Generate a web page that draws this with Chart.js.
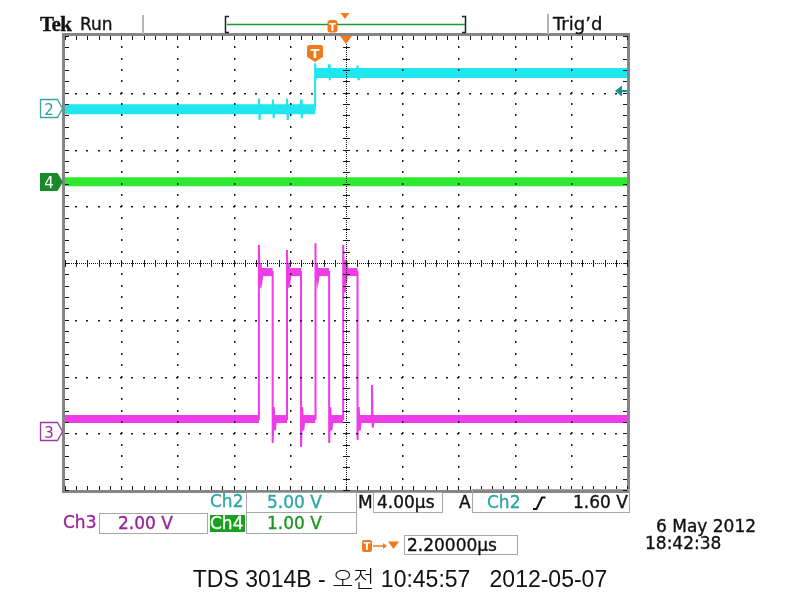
<!DOCTYPE html>
<html><head><meta charset="utf-8">
<script src="https://cdn.jsdelivr.net/npm/chart.js@4.4.0/dist/chart.umd.min.js"></script>
<style>
html,body{margin:0;padding:0;background:#fff;}
#wrap{position:relative;width:800px;height:600px;overflow:hidden;background:#fff;}
#c{position:absolute;left:0;top:0;}
#ov{position:absolute;left:0;top:0;pointer-events:none;}
.t{position:absolute;white-space:pre;font-family:"DejaVu Sans";font-size:17px;line-height:1;color:#111;-webkit-text-stroke:0.35px currentColor;}
.box{position:absolute;border:1px solid #a8a8a8;box-sizing:border-box;}
.cap{position:absolute;left:0;width:800px;text-align:center;white-space:pre;font-family:"Liberation Sans","Noto Sans CJK KR";font-size:23px;line-height:1;color:#111;}
.kr{font-family:"Noto Sans CJK KR";font-weight:300;}
</style></head>
<body>
<div id="wrap">
<canvas id="c" width="800" height="600"></canvas>
<svg id="ov" width="800" height="600" xmlns="http://www.w3.org/2000/svg">
  <line x1="143" y1="15" x2="143" y2="34" stroke="#b4b4b4" stroke-width="2"/>
  <line x1="548" y1="14" x2="548" y2="34" stroke="#b4b4b4" stroke-width="2"/>
  <path d="M229,16.5 L225.5,16.5 L225.5,32.5 L229,32.5" fill="none" stroke="#222" stroke-width="1.5"/>
  <path d="M462,16.5 L465.5,16.5 L465.5,32.5 L462,32.5" fill="none" stroke="#222" stroke-width="1.5"/>
  <line x1="227" y1="24.5" x2="465" y2="24.5" stroke="#1c9a2c" stroke-width="1.5"/>
  <rect x="327.5" y="20" width="10" height="12.5" rx="3" fill="#f07a1e"/>
  <text x="332.5" y="30.5" font-family="DejaVu Sans" font-weight="bold" font-size="10" fill="#fff" text-anchor="middle">T</text>
  <polygon points="340.5,13 349.5,13 345,19" fill="#f07a1e"/>
  <polygon points="340,36 352,36 346,44" fill="#f07a1e"/>
  <path d="M309.5,45 h11 a2.5,2.5 0 0 1 2.5,2.5 v9.5 l-8,5 l-8,-5 v-9.5 a2.5,2.5 0 0 1 2.5,-2.5 z" fill="#f07a1e"/>
  <text x="315" y="57.5" font-family="DejaVu Sans" font-weight="bold" font-size="13" fill="#fff" text-anchor="middle">T</text>
  <polygon points="40.5,99.5 57.5,99.5 62.5,108.5 57.5,117.5 40.5,117.5" fill="#fff" stroke="#3aa5a5" stroke-width="1.3"/>
  <text x="49" y="114.5" font-family="DejaVu Sans" font-size="15" fill="#2a9c9c" text-anchor="middle">2</text>
  <polygon points="40,173 57.5,173 63,182 57.5,191 40,191" fill="#178a2a"/>
  <text x="49" y="188" font-family="DejaVu Sans" font-size="15" fill="#fff" text-anchor="middle">4</text>
  <polygon points="40.5,422.5 57.5,422.5 62.5,431.5 57.5,440.5 40.5,440.5" fill="#fff" stroke="#a03aa0" stroke-width="1.3"/>
  <text x="49" y="437.5" font-family="DejaVu Sans" font-size="15" fill="#9a2a9a" text-anchor="middle">3</text>
  <polygon points="615,91 622,85.5 622,96.5" fill="#1a9090"/>
  <rect x="621" y="90" width="6" height="2" fill="#1a9090"/>
  <path d="M533,509 L536.5,509 L542,497.5 L545.5,497.5" fill="none" stroke="#111" stroke-width="2"/>
  <rect x="362" y="540" width="10" height="12" rx="2" fill="#f07a1e"/>
  <text x="367" y="550" font-family="DejaVu Sans" font-weight="bold" font-size="10" fill="#fff" text-anchor="middle">T</text>
  <line x1="373" y1="546" x2="383" y2="546" stroke="#f07a1e" stroke-width="1.5"/>
  <polygon points="383,543 387,546 383,549" fill="#f07a1e"/>
  <polygon points="388,541.5 399,541.5 393.5,549" fill="#f07a1e"/>
</svg>
<div class="t" style="left:40px;top:13.5px;font-family:'Liberation Serif';font-weight:bold;font-size:21px;letter-spacing:-0.6px;">Tek</div>
<div class="t" style="left:80px;top:15.5px;">Run</div>
<div class="t" style="left:553px;top:14.5px;font-size:18px;">Trig’d</div>

<div class="t" style="left:210px;top:493px;color:#2aa6a8;">Ch2</div>
<div class="box" style="left:246px;top:492px;width:111px;height:21px;"></div>
<div class="t" style="left:267px;top:494px;color:#2aa6a8;">5.00 V</div>
<div class="t" style="left:358px;top:494px;">M</div>
<div class="box" style="left:373px;top:492px;width:70px;height:21px;"></div>
<div class="t" style="left:377px;top:494px;">4.00µs</div>
<div class="t" style="left:459px;top:494px;">A</div>
<div class="box" style="left:472px;top:489px;width:158px;height:24px;"></div>
<div class="t" style="left:487px;top:494px;color:#2aa6a8;">Ch2</div>
<div class="t" style="left:573px;top:494px;">1.60 V</div>

<div class="t" style="left:63px;top:514px;color:#9a239a;">Ch3</div>
<div class="box" style="left:99px;top:513px;width:109px;height:21px;"></div>
<div class="t" style="left:118px;top:515px;color:#9a239a;">2.00 V</div>
<div class="t" style="left:210px;top:515px;width:35px;height:17px;background:#18a01e;color:#fff;">Ch4</div>
<div class="box" style="left:246px;top:512px;width:111px;height:22px;"></div>
<div class="t" style="left:267px;top:515px;color:#1e961e;">1.00 V</div>

<div class="box" style="left:404px;top:535px;width:114px;height:20px;"></div>
<div class="t" style="left:407px;top:537px;">2.20000µs</div>

<div class="t" style="left:656px;top:518px;">6 May 2012</div>
<div class="t" style="left:645px;top:535px;">18:42:38</div>

<div class="cap" style="top:566px;">TDS 3014B - <span class="kr">오전</span> 10:45:57   2012-05-07</div>
</div>
<script>
// Time axis in microseconds (4 µs/div, 10 div), vertical axis in divisions (8 div)
const X_MIN = -20, X_MAX = 20, X_DIV = 4, Y_MIN = -4, Y_MAX = 4;

// Channel 2 (cyan): level band and edge/noise trace
const ch2Level = [[-20, 2.71], [-2.2, 2.71], [-2.2, 3.35], [20, 3.35]];
const ch2Trace = [
  [-20, 2.71], [-6.25, 2.71], [-6.2, 2.9], [-6.15, 2.52], [-6.1, 2.71],
  [-5.25, 2.71], [-5.2, 2.88], [-5.15, 2.55], [-5.1, 2.71],
  [-4.25, 2.71], [-4.2, 2.9], [-4.15, 2.52], [-4.1, 2.71],
  [-3.25, 2.71], [-3.2, 2.88], [-3.15, 2.55], [-3.1, 2.71],
  [-2.2, 2.71], [-2.2, 3.52], [-2.12, 3.28], [-2.05, 3.35],
  [-1.25, 3.35], [-1.2, 3.5], [-1.15, 3.22], [-1.1, 3.35],
  [0.77, 3.35], [0.82, 3.48], [0.87, 3.24], [0.92, 3.35],
  [20, 3.35]
];

// Channel 4 (green): flat
const ch4Level = [[-20, 1.43], [20, 1.43]];

// Channel 3 (magenta): pulse levels and edge ringing
const ch3Level = [
  [-20, -2.75], [-6.2, -2.75], [-6.2, -0.16], [-5.22, -0.16], [-5.22, -2.75],
  [-4.2, -2.75], [-4.2, -0.16], [-3.2, -0.16], [-3.2, -2.75],
  [-2.2, -2.75], [-2.2, -0.16], [-1.2, -0.16], [-1.2, -2.75],
  [-0.2, -2.75], [-0.2, -0.16], [0.82, -0.16], [0.82, -2.75], [20, -2.75]
];
const ch3Trace = [
  [-20, -2.75],
  [-6.2, -2.75], [-6.2, 0.32], [-6.14, -0.44], [-6.08, 0.0], [-6.0, -0.3], [-5.92, -0.16],
  [-5.22, -0.16], [-5.22, -3.17], [-5.14, -2.54], [-5.06, -2.95], [-4.98, -2.75],
  [-4.2, -2.75], [-4.2, 0.23], [-4.14, -0.44], [-4.08, 0.0], [-4.0, -0.3], [-3.92, -0.16],
  [-3.2, -0.16], [-3.2, -3.24], [-3.12, -2.54], [-3.04, -2.95], [-2.96, -2.75],
  [-2.2, -2.75], [-2.2, 0.35], [-2.14, -0.44], [-2.08, 0.0], [-2.0, -0.3], [-1.92, -0.16],
  [-1.2, -0.16], [-1.2, -3.17], [-1.12, -2.54], [-1.04, -2.95], [-0.96, -2.75],
  [-0.2, -2.75], [-0.2, 0.32], [-0.14, -0.5], [-0.08, 0.05], [0.0, -0.35], [0.08, -0.05], [0.16, -0.16],
  [0.82, -0.16], [0.82, -3.12], [0.9, -2.54], [0.98, -2.95], [1.06, -2.75],
  [1.85, -2.75], [1.85, -2.15], [1.9, -2.9], [1.98, -2.75],
  [20, -2.75]
];

const C2 = '#1fe6ef', C4 = '#2fe82f', C3 = '#ee3ce6';

const pts = a => a.map(p => ({x: p[0], y: p[1]}));
const band = (arr, color, w) => ({
  data: pts(arr), borderColor: color, borderWidth: w, borderCapStyle: 'butt', borderJoinStyle: 'miter',
  segment: { borderColor: c => Math.abs(c.p1.parsed.x - c.p0.parsed.x) < 0.01 ? 'rgba(0,0,0,0)' : color }
});
const trace = (arr, color) => ({ data: pts(arr), borderColor: color, borderWidth: 2 });

const graticule = {
  id: 'graticule',
  afterDatasetsDraw(chart) {
    const {ctx, chartArea: a, scales: {x, y}} = chart;
    ctx.save();
    ctx.strokeStyle = '#868686'; ctx.lineWidth = 3;
    ctx.strokeRect(a.left - 1.5, a.top - 1.5, a.right - a.left + 3, a.bottom - a.top + 3);
    ctx.fillStyle = '#1a1a1a';
    const nx = (X_MAX - X_MIN) / X_DIV * 5, ny = (Y_MAX - Y_MIN) * 5;
    const cx = Math.round(x.getPixelForValue(0)), cy = Math.round(y.getPixelForValue(0));
    for (let i = 0; i <= nx; i++) {
      const px = Math.round(x.getPixelForValue(X_MIN + i * X_DIV / 5));
      ctx.fillRect(px, a.top, 1, 4);
      ctx.fillRect(px, a.bottom - 4, 1, 4);
      ctx.fillRect(px, cy - 3, 1, 7);
    }
    for (let j = 0; j <= ny; j++) {
      const py = Math.round(y.getPixelForValue(Y_MIN + j / 5));
      ctx.fillRect(a.left, py, 4, 1);
      ctx.fillRect(a.right - 4, py, 4, 1);
      ctx.fillRect(cx - 3, py, 7, 1);
    }
    for (let k = 1; k < (X_MAX - X_MIN) / X_DIV; k++) {
      const px = Math.round(x.getPixelForValue(X_MIN + k * X_DIV));
      if (px === cx) continue;
      for (let j = 1; j < ny; j++) {
        const py = Math.round(y.getPixelForValue(Y_MIN + j / 5));
        ctx.fillRect(px, py - 1, 1.5, 2);
      }
    }
    for (let k = 1; k < (Y_MAX - Y_MIN); k++) {
      const py = Math.round(y.getPixelForValue(Y_MIN + k));
      if (py === cy) continue;
      for (let i = 1; i < nx; i++) {
        const px = Math.round(x.getPixelForValue(X_MIN + i * X_DIV / 5));
        ctx.fillRect(px - 1, py, 2, 1.5);
      }
    }
    for (let px = a.left; px < a.right; px += 2) ctx.fillRect(px, cy, 1, 1);
    for (let py = a.top; py < a.bottom; py += 2) ctx.fillRect(cx, py, 1, 1);
    ctx.restore();
  }
};

new Chart(document.getElementById('c'), {
  type: 'line',
  data: { datasets: [
    band(ch2Level, C2, 10), trace(ch2Trace, C2),
    band(ch4Level, C4, 9),
    band(ch3Level, C3, 8), trace(ch3Trace, C3)
  ]},
  options: {
    responsive: false, animation: false, devicePixelRatio: 1,
    layout: { padding: { left: 65, right: 173, top: 36, bottom: 110 } },
    elements: { point: { radius: 0, hoverRadius: 0 }, line: { tension: 0, fill: false } },
    scales: {
      x: { type: 'linear', min: X_MIN, max: X_MAX, display: false },
      y: { type: 'linear', min: Y_MIN, max: Y_MAX, display: false }
    },
    plugins: { legend: { display: false }, tooltip: { enabled: false } },
    events: []
  },
  plugins: [graticule]
});
</script>
</body></html>
